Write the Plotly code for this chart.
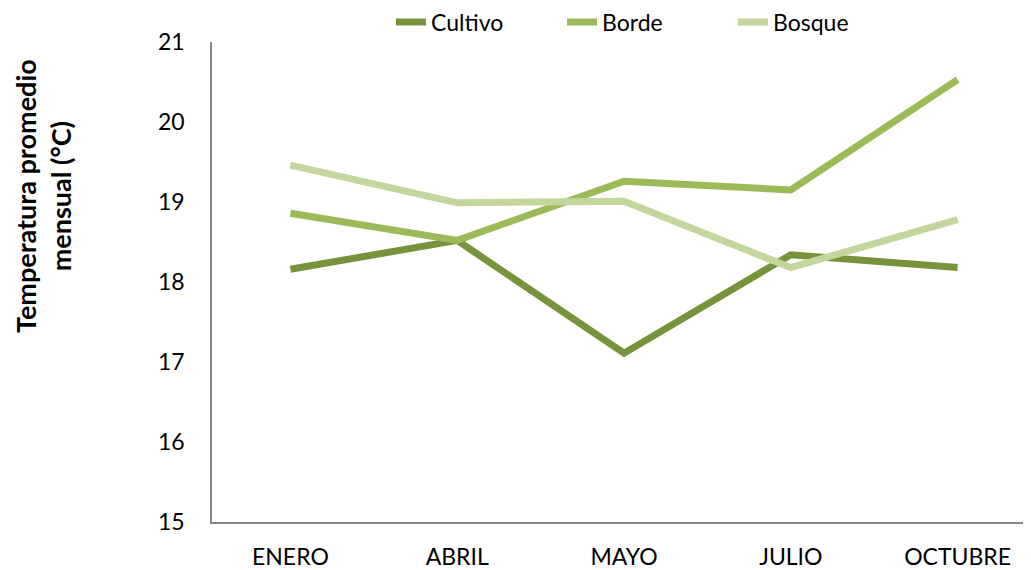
import plotly.graph_objects as go

meses = ["ENERO", "ABRIL", "MAYO", "JULIO", "OCTUBRE"]
cultivo = [18.16, 18.52, 17.11, 18.34, 18.18]
borde = [18.86, 18.52, 19.26, 19.15, 20.53]
bosque = [19.46, 18.99, 19.01, 18.18, 18.78]

series = [
    ("Cultivo", cultivo, "#77933C"),
    ("Borde", borde, "#9BBB59"),
    ("Bosque", bosque, "#C3D69B"),
]

font = "Lato, Open Sans, sans-serif"

fig = go.Figure()
for name, vals, color in series:
    fig.add_trace(go.Scatter(
        x=meses, y=vals, name=name, mode="lines",
        line=dict(color=color, width=7),
    ))

# the page body has an 8px margin, so the figure is sized to fill the rest
fig.update_layout(
    width=1023, height=562,
    paper_bgcolor="white", plot_bgcolor="white",
    margin=dict(l=204, r=0, t=34, b=48, autoexpand=False),
    font=dict(family=font, size=23, color="black"),
    showlegend=True,
    legend=dict(
        orientation="h", xref="paper", x=0.2186, xanchor="left",
        yref="container", y=0.975, yanchor="middle",
        font=dict(size=23), entrywidth=126, entrywidthmode="pixels",
        bgcolor="rgba(0,0,0,0)",
    ),
)
fig.update_xaxes(
    type="category", range=[-0.47, 4.44], automargin=False,
    showline=True, linecolor="#868686", linewidth=1.5,
    showgrid=False, zeroline=False, ticks="",
    ticklabelstandoff=14,
)
fig.update_yaxes(
    range=[15, 21], dtick=1, tick0=15, automargin=False,
    showline=True, linecolor="#868686", linewidth=1.5,
    showgrid=False, zeroline=False, ticks="",
    ticklabelstandoff=21,
)
fig.add_annotation(
    text="<b>Temperatura promedio<br>mensual (°C)</b>",
    xref="paper", yref="paper", x=-0.207, y=0.68,
    xanchor="center", yanchor="middle", textangle=-90,
    showarrow=False, font=dict(size=27, family=font),
)

fig.write_html("out.html")
